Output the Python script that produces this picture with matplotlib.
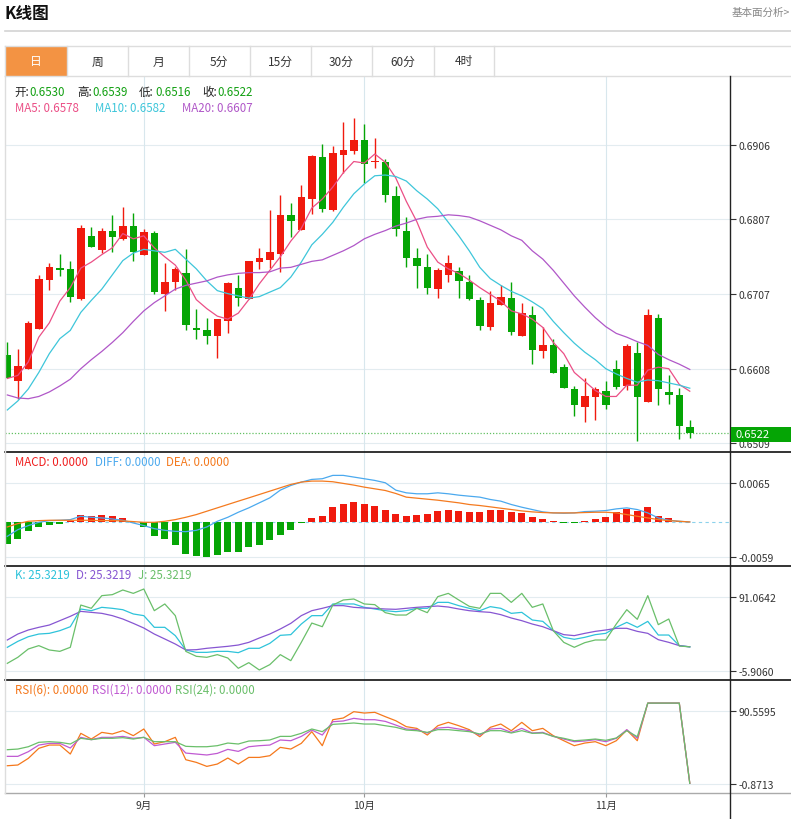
import matplotlib
matplotlib.use("Agg")
import matplotlib.pyplot as plt
from matplotlib.lines import Line2D
from matplotlib.patches import Rectangle

plt.rcParams['font.family'] = ['Noto Sans CJK SC', 'DejaVu Sans']

# ---- daily candles ----
opens = [0.6626, 0.6591, 0.6608, 0.6661, 0.6726, 0.6742, 0.6741, 0.6701, 0.6785, 0.6766,
         0.6791, 0.6781, 0.6798, 0.6759, 0.6789, 0.6708, 0.6723, 0.6736, 0.6662, 0.6659,
         0.6651, 0.6672, 0.6716, 0.6701, 0.6750, 0.6753, 0.6761, 0.6813, 0.6793, 0.6834,
         0.6890, 0.6819, 0.6893, 0.6898, 0.6912, 0.6884, 0.6884, 0.6838, 0.6791, 0.6755,
         0.6744, 0.6714, 0.6733, 0.6738, 0.6724, 0.6699, 0.6664, 0.6693, 0.6702, 0.6652,
         0.6680, 0.6631, 0.6639, 0.6610, 0.6581, 0.6557, 0.6570, 0.6578, 0.6608, 0.6585,
         0.6629, 0.6564, 0.6675, 0.6577, 0.6573, 0.6530]
highs = [0.6643, 0.6634, 0.6671, 0.6733, 0.6749, 0.6761, 0.6752, 0.6799, 0.6797, 0.6795,
         0.6813, 0.6824, 0.6815, 0.6794, 0.6791, 0.6749, 0.6743, 0.6767, 0.6688, 0.6676,
         0.6674, 0.6724, 0.6733, 0.6752, 0.6769, 0.6819, 0.6839, 0.6829, 0.6853, 0.6893,
         0.6907, 0.6905, 0.6937, 0.6942, 0.6934, 0.6915, 0.6887, 0.6851, 0.6810, 0.6769,
         0.6761, 0.6742, 0.6759, 0.6744, 0.6733, 0.6704, 0.6711, 0.6720, 0.6723, 0.6696,
         0.6691, 0.6663, 0.6647, 0.6614, 0.6585, 0.6595, 0.6583, 0.6591, 0.6619, 0.6641,
         0.6644, 0.6688, 0.6681, 0.6599, 0.6582, 0.6539]
lows = [0.6595, 0.6568, 0.6608, 0.6661, 0.6713, 0.6731, 0.6697, 0.6699, 0.6770, 0.6762,
        0.6764, 0.6779, 0.6751, 0.6759, 0.6708, 0.6685, 0.6713, 0.6660, 0.6648, 0.6641,
        0.6622, 0.6656, 0.6691, 0.6701, 0.6741, 0.6742, 0.6737, 0.6783, 0.6793, 0.6814,
        0.6817, 0.6818, 0.6869, 0.6894, 0.6856, 0.6875, 0.6830, 0.6785, 0.6743, 0.6715,
        0.6708, 0.6702, 0.6724, 0.6702, 0.6699, 0.6659, 0.6659, 0.6693, 0.6653, 0.6651,
        0.6614, 0.6622, 0.6602, 0.6582, 0.6545, 0.6537, 0.6540, 0.6554, 0.6581, 0.6579,
        0.6512, 0.6564, 0.6559, 0.6561, 0.6514, 0.6516]
closes = [0.6595, 0.6611, 0.6669, 0.6728, 0.6743, 0.6739, 0.6703, 0.6796, 0.6770, 0.6791,
          0.6784, 0.6798, 0.6764, 0.6790, 0.6710, 0.6724, 0.6741, 0.6666, 0.6659, 0.6651,
          0.6674, 0.6722, 0.6702, 0.6751, 0.6755, 0.6764, 0.6813, 0.6805, 0.6837, 0.6892,
          0.6821, 0.6895, 0.6899, 0.6912, 0.6881, 0.6885, 0.6839, 0.6794, 0.6755, 0.6745,
          0.6716, 0.6740, 0.6749, 0.6725, 0.6701, 0.6665, 0.6696, 0.6704, 0.6657, 0.6682,
          0.6633, 0.6640, 0.6602, 0.6582, 0.6560, 0.6571, 0.6581, 0.6559, 0.6583, 0.6638,
          0.6570, 0.6679, 0.6581, 0.6573, 0.6532, 0.6522]

ma5 = [0.6595, 0.6599, 0.6617, 0.6650, 0.6669, 0.6698, 0.6716, 0.6742, 0.6750, 0.6760,
       0.6769, 0.6788, 0.6781, 0.6785, 0.6769, 0.6757, 0.6746, 0.6726, 0.6700, 0.6688,
       0.6678, 0.6674, 0.6682, 0.6700, 0.6721, 0.6739, 0.6757, 0.6778, 0.6795, 0.6822,
       0.6834, 0.6850, 0.6869, 0.6884, 0.6882, 0.6894, 0.6883, 0.6862, 0.6831, 0.6804,
       0.6770, 0.6750, 0.6741, 0.6735, 0.6726, 0.6716, 0.6707, 0.6698, 0.6685, 0.6681,
       0.6674, 0.6663, 0.6643, 0.6628, 0.6603, 0.6591, 0.6579, 0.6571, 0.6571, 0.6586,
       0.6586, 0.6606, 0.6610, 0.6608, 0.6587, 0.6578]
ma10 = [0.6553, 0.6565, 0.6581, 0.6603, 0.6628, 0.6648, 0.6659, 0.6683, 0.6699, 0.6714,
        0.6733, 0.6752, 0.6762, 0.6767, 0.6765, 0.6763, 0.6767, 0.6754, 0.6741, 0.6725,
        0.6712, 0.6708, 0.6705, 0.6702, 0.6704, 0.6710, 0.6716, 0.6730, 0.6750, 0.6773,
        0.6787, 0.6803, 0.6823, 0.6841, 0.6854, 0.6865, 0.6866, 0.6864, 0.6858, 0.6845,
        0.6834, 0.6821, 0.6803, 0.6785, 0.6765, 0.6743, 0.6728, 0.6719, 0.6711, 0.6705,
        0.6697, 0.6688, 0.6671, 0.6656, 0.6642, 0.6630, 0.6620, 0.6608, 0.6601, 0.6595,
        0.6590, 0.6593, 0.6592, 0.6589, 0.6586, 0.6582]
ma20 = [0.6573, 0.6569, 0.6568, 0.6571, 0.6577, 0.6585, 0.6594, 0.6608, 0.6620, 0.6631,
        0.6643, 0.6656, 0.6671, 0.6685, 0.6696, 0.6705, 0.6714, 0.6719, 0.6722, 0.6725,
        0.6730, 0.6733, 0.6735, 0.6736, 0.6736, 0.6737, 0.6742, 0.6743, 0.6747, 0.6751,
        0.6753, 0.6759, 0.6765, 0.6772, 0.6781, 0.6787, 0.6792, 0.6798, 0.6802, 0.6807,
        0.6810, 0.6811, 0.6813, 0.6812, 0.6810, 0.6805, 0.6799, 0.6793, 0.6785, 0.6779,
        0.6765, 0.6754, 0.6739, 0.6722, 0.6705, 0.6690, 0.6676, 0.6664, 0.6655, 0.6650,
        0.6644, 0.6639, 0.6627, 0.6620, 0.6614, 0.6607]

macd_hist = [-0.00363, -0.00285, -0.00157, -0.00084, -0.00045, -0.00028, 0.0001, 0.00123, 0.00106, 0.00123,
             0.00095, 0.00067, 0.0, -0.00084, -0.00229, -0.00285, -0.0038, -0.0053, -0.00576, -0.00587,
             -0.00548, -0.00509, -0.00509, -0.00425, -0.00391, -0.00307, -0.00212, -0.0014, -0.0001, 0.00067,
             0.00095, 0.00252, 0.00302, 0.0033, 0.00307, 0.00274, 0.00207, 0.0014, 0.00106, 0.00123,
             0.00134, 0.0019, 0.00196, 0.00179, 0.00162, 0.00162, 0.00207, 0.00207, 0.00162, 0.00151,
             0.00084, 0.00056, 0.0001, -0.00017, -0.00017, 0.00022, 0.00056, 0.00084, 0.00173, 0.00224,
             0.0019, 0.00257, 0.00106, 0.00067, 0.0001, 0.0]
diff = [-0.0024, -0.00129, -0.00061, -0.00006, 0.00022, 0.00028, 0.00039, 0.00095, 0.00078, 0.00067,
        0.0005, 0.00028, -0.00017, -0.00061, -0.00112, -0.0014, -0.00157, -0.00162, -0.0014, -0.00084,
        0.00011, 0.00078, 0.00162, 0.00235, 0.00319, 0.00402, 0.00531, 0.00609, 0.00665, 0.0071,
        0.00721, 0.00777, 0.00777, 0.00749, 0.00721, 0.00693, 0.00654, 0.00531, 0.00486, 0.0047,
        0.0047, 0.00486, 0.0047, 0.00447, 0.0043, 0.00414, 0.00375, 0.00347, 0.00291, 0.00246,
        0.00207, 0.00168, 0.00151, 0.00145, 0.00151, 0.00173, 0.00179, 0.0019, 0.00218, 0.00235,
        0.00207, 0.00151, 0.00067, 0.00028, 0.00011, 0.0]
dea = [-0.00084, -0.00028, 0.00011, 0.00022, 0.00028, 0.00028, 0.00028, 0.00028, 0.00028, 0.00022,
       0.00022, 0.00017, 0.00006, -0.00006, -0.00006, 0.00011, 0.00039, 0.00078, 0.00123, 0.00179,
       0.00235, 0.00291, 0.00347, 0.00402, 0.00458, 0.00514, 0.0057, 0.00626, 0.00665, 0.00682,
       0.00682, 0.00671, 0.00643, 0.00615, 0.00581, 0.00553, 0.00525, 0.00475, 0.00414, 0.00397,
       0.0038, 0.00363, 0.00341, 0.00319, 0.00291, 0.00274, 0.00252, 0.00229, 0.00207, 0.00184,
       0.00168, 0.00157, 0.00151, 0.00151, 0.00151, 0.00157, 0.00162, 0.00162, 0.00151, 0.00123,
       0.00095, 0.00067, 0.00039, 0.00022, 0.00011, 0.0]

k_line = [24.7, 32.5, 38.6, 42.1, 43.0, 46.5, 51.7, 74.9, 72.7, 77.1,
          75.8, 74.0, 68.4, 66.2, 50.9, 50.9, 40.0, 21.2, 18.1, 18.1,
          19.4, 19.4, 17.7, 23.4, 23.4, 29.9, 40.4, 41.3, 55.2, 66.2,
          66.2, 81.5, 81.5, 81.5, 77.1, 74.9, 72.7, 71.4, 72.7, 75.8,
          75.8, 83.6, 83.6, 79.3, 75.8, 72.7, 78.0, 75.8, 69.2, 70.5,
          60.5, 58.7, 46.5, 37.8, 35.2, 37.8, 41.3, 43.0, 50.9, 57.4,
          50.9, 58.7, 40.8, 40.8, 26.9, 25.3219]
d_line = [34.3, 42.1, 47.4, 50.9, 53.9, 59.6, 65.3, 71.8, 70.5, 69.2,
          66.2, 61.8, 56.1, 50.0, 42.1, 35.6, 29.0, 21.2, 21.6, 23.4,
          24.7, 26.0, 27.7, 31.2, 36.9, 42.1, 48.7, 56.1, 66.2, 72.7,
          75.8, 79.3, 79.3, 77.1, 76.2, 75.8, 74.9, 74.5, 75.8, 77.1,
          78.0, 78.8, 77.5, 74.9, 72.7, 71.4, 70.5, 67.5, 63.1, 59.6,
          55.2, 51.7, 46.5, 41.3, 40.0, 43.0, 45.6, 47.4, 49.6, 49.6,
          45.6, 43.0, 34.7, 31.2, 26.9, 25.3219]
j_line = [3.7, 11.6, 22.5, 26.9, 21.2, 19.4, 24.7, 80.1, 75.8, 92.4,
          93.7, 99.8, 95.4, 101.1, 72.7, 81.5, 66.2, 19.4, 12.9, 11.6,
          15.1, 10.7, -2.8, 4.6, -5.0, 2.0, 15.1, 7.2, 31.2, 56.5,
          51.7, 80.1, 86.7, 88.0, 81.5, 80.6, 70.1, 67.0, 67.0, 75.8,
          70.1, 91.1, 95.4, 86.7, 78.4, 75.8, 95.4, 95.4, 83.6, 95.4,
          77.1, 81.5, 46.5, 31.2, 24.7, 30.8, 34.3, 34.3, 55.2, 74.0,
          61.4, 92.4, 54.4, 61.8, 26.4, 25.3219]

rsi6 = [21.9, 22.8, 31.1, 43.6, 47.7, 47.7, 36.5, 62.3, 55.2, 63.5,
        61.5, 65.6, 59.4, 67.7, 49.0, 51.9, 57.3, 29.4, 26.1, 21.1,
        24.0, 31.5, 24.0, 32.3, 32.3, 34.4, 44.8, 42.7, 49.8, 64.4,
        46.9, 79.3, 81.4, 89.3, 87.6, 88.5, 83.1, 78.0, 70.6, 68.5,
        60.2, 71.8, 76.0, 71.8, 66.9, 58.1, 69.8, 73.9, 65.6, 76.0,
        65.6, 68.5, 59.4, 53.1, 46.9, 50.2, 51.9, 46.9, 53.1, 66.4,
        53.1, 100.0, 100.0, 100.0, 100.0, 0.0]
rsi12 = [33.6, 33.6, 39.4, 47.7, 49.8, 49.8, 44.0, 57.3, 54.4, 57.3,
         57.3, 58.5, 56.1, 57.3, 46.9, 49.0, 51.1, 37.7, 36.5, 35.3,
         37.3, 42.3, 39.8, 45.6, 46.9, 47.7, 54.0, 53.1, 58.5, 66.4,
         60.2, 76.8, 77.7, 81.0, 79.3, 79.3, 77.2, 72.6, 67.7, 66.9,
         62.7, 68.9, 69.8, 67.7, 65.6, 60.2, 67.7, 68.5, 63.5, 68.5,
         62.7, 63.5, 58.5, 55.2, 51.9, 52.7, 54.4, 51.9, 56.1, 66.9,
         56.1, 100.0, 100.0, 100.0, 100.0, 0.0]
rsi24 = [41.9, 42.7, 45.6, 51.1, 51.9, 51.1, 49.0, 56.1, 54.4, 56.1,
         56.1, 56.9, 55.2, 57.3, 51.9, 51.9, 51.9, 46.1, 45.6, 45.6,
         46.9, 50.2, 49.0, 52.7, 53.1, 54.0, 58.5, 58.5, 62.3, 67.7,
         64.4, 73.5, 74.3, 75.2, 73.9, 73.9, 71.8, 69.8, 66.4, 65.6,
         63.5, 66.9, 66.9, 65.6, 64.4, 61.5, 65.6, 65.6, 62.7, 65.6,
         62.3, 62.7, 58.5, 56.1, 53.1, 54.0, 55.2, 53.6, 56.5, 65.6,
         58.1, 100.0, 100.0, 100.0, 100.0, 0.0]

month_pos = [13, 34, 57]
month_labels = ["9月", "10月", "11月"]
tabs = ["日", "周", "月", "5分", "15分", "30分", "60分", "4时"]
price_ticks = [0.6906, 0.6807, 0.6707, 0.6608, 0.6509]
macd_ticks = [0.0065, -0.0059]
kdj_ticks = [91.0642, -5.9060]
rsi_ticks = [90.5595, -0.8713]
last_price = 0.6522

RED = '#F01A0E'
GREEN = '#05A505'
GRID = '#E3ECF0'
VGRID = '#D8E7ED'

W, H = 791, 820
fig = plt.figure(figsize=(W / 100, H / 100), dpi=100)


def fx(px):
    return px / W


def fy(py):
    return 1 - py / H


def hline(x0, x1, y, color, lw=1.0):
    fig.add_artist(Line2D([fx(x0), fx(x1)], [fy(y), fy(y)], color=color, lw=lw,
                          transform=fig.transFigure))


def vline(x, y0, y1, color, lw=1.0):
    fig.add_artist(Line2D([fx(x), fx(x)], [fy(y0), fy(y1)], color=color, lw=lw,
                          transform=fig.transFigure))


def text(x, y, s, color, size=8.3, **kw):
    fig.text(fx(x), fy(y), s, color=color, fontsize=size, va='center', **kw)


X0, X1 = 5, 730
XLIM = (-0.22, 68.83)


def panel(top, bottom, ylim, ticks):
    ax = fig.add_axes([fx(X0), fy(bottom), fx(X1) - fx(X0), (bottom - top) / H])
    ax.set_xlim(*XLIM)
    ax.set_ylim(*ylim)
    for s in ax.spines.values():
        s.set_visible(False)
    ax.patch.set_alpha(0)
    ax.set_xticks([])
    ax.yaxis.tick_right()
    ax.set_yticks(ticks)
    ax.set_yticklabels(["%.4f" % t for t in ticks])
    ax.tick_params(axis='y', length=4, width=0.8, color='#333333', labelsize=7.5,
                   labelcolor='#333333', pad=2)
    for t in ticks:
        ax.axhline(t, color=GRID, lw=0.8, zorder=0)
    for m in month_pos:
        ax.axvline(m, color=VGRID, lw=0.8, zorder=0)
    return ax


x = list(range(len(closes)))

# ---- main candle panel ----
ax = panel(77, 453, (0.649701, 0.699792), price_ticks)
cols = [RED if c >= o else GREEN for o, c in zip(opens, closes)]
ax.vlines(x, lows, highs, colors=cols, lw=1, zorder=2)
bottoms = [min(o, c) for o, c in zip(opens, closes)]
heights = [max(abs(c - o), 0.00008) for o, c in zip(opens, closes)]
ax.bar(x, heights, 0.72, bottom=bottoms, color=cols, lw=0, zorder=3)
ax.plot(x, ma5, color='#EB4F86', lw=0.9, zorder=4)
ax.plot(x, ma10, color='#3EC6DA', lw=0.9, zorder=4)
ax.plot(x, ma20, color='#B057C8', lw=0.9, zorder=4)
ax.axhline(last_price, color='#62C062', lw=0.9, ls=(0, (1, 1.5)), zorder=1)

# ---- MACD ----
ax2 = panel(453, 567, (-0.007352, 0.011674), macd_ticks)
ax2.axhline(0, color='#8CD2EC', lw=0.8, ls=(0, (3, 3)), zorder=1)
ax2.bar(x, macd_hist, 0.7, color=[RED if v >= 0 else GREEN for v in macd_hist], lw=0, zorder=2)
ax2.plot(x, diff, color='#4BA9EE', lw=0.9, zorder=3)
ax2.plot(x, dea, color='#F47A1F', lw=0.9, zorder=3)

# ---- KDJ ----
ax3 = panel(567, 681, (-18.13, 131.25), kdj_ticks)
ax3.plot(x, k_line, color='#2EC3DA', lw=0.9)
ax3.plot(x, d_line, color='#8756D2', lw=0.9)
ax3.plot(x, j_line, color='#6ABF6A', lw=0.9)

# ---- RSI ----
ax4 = panel(681, 794, (-12.09, 128.80), rsi_ticks)
ax4.plot(x, rsi6, color='#F5781C', lw=0.9)
ax4.plot(x, rsi12, color='#C05AD2', lw=0.9)
ax4.plot(x, rsi24, color='#6ABF6A', lw=0.9)
ax4.set_xticks(month_pos)
ax4.set_xticklabels(month_labels)
ax4.tick_params(axis='x', length=3, width=0.8, color='#999999', labelsize=7.5,
                labelcolor='#333333', pad=2)

# ---- frame lines ----
hline(5, 791, 32.3, '#D3D3D3', 1.2)
hline(5, 791, 46.7, '#DDDDDD')
hline(5, 791, 77.3, '#DDDDDD')
for y in (453, 567, 681):
    hline(5, 791, y, '#111111', 1.2)
hline(5, 791, 794, '#AAAAAA')
vline(5, 77, 794, '#DDDDDD')
vline(730, 77.3, 820, '#222222')

# ---- tabs ----
tab_edges = [5, 66.6, 127.6, 188.6, 249.6, 311, 372, 433.7, 494]
fig.add_artist(Rectangle((fx(5), fy(77.3)), fx(66.6) - fx(5), (77.3 - 46.7) / H,
                         transform=fig.transFigure, color='#F39343', lw=0))
for e in tab_edges:
    vline(e, 46.7, 77.3, '#DDDDDD')
for i, t in enumerate(tabs):
    cx = (tab_edges[i] + tab_edges[i + 1]) / 2
    text(cx, 62, t, 'white' if i == 0 else '#333333', 8.5, ha='center')

# ---- title ----
text(5, 14, "K线图", '#111111', 12, ha='left', weight='bold')
text(790, 13, "基本面分析>", '#888888', 7.6, ha='right')

# ---- legends ----
VAL = '#12A012'
for lx, lab, vx, val in [(14, "开:", 29, "0.6530"), (77, "高:", 92, "0.6539"),
                         (139, "低:", 155, "0.6516"), (202, "收:", 217, "0.6522")]:
    text(lx, 92.7, lab, '#222222', 8.3, ha='left')
    text(vx, 92.7, val, VAL, 8.3, ha='left')
text(15, 108, "MA5: 0.6578", '#EB4F86', 8.3, ha='left')
text(95, 108, "MA10: 0.6582", '#3EC6DA', 8.3, ha='left')
text(182, 108, "MA20: 0.6607", '#B057C8', 8.3, ha='left')

text(15, 463, "MACD: 0.0000", '#F02020', 8.3, ha='left')
text(95, 463, "DIFF: 0.0000", '#4BA9EE', 8.3, ha='left')
text(166, 463, "DEA: 0.0000", '#F47A1F', 8.3, ha='left')

text(15, 576, "K: 25.3219", '#2EC3DA', 8.3, ha='left')
text(76, 576, "D: 25.3219", '#8756D2', 8.3, ha='left')
text(138, 576, "J: 25.3219", '#6ABF6A', 8.3, ha='left')

text(15, 690, "RSI(6): 0.0000", '#F5781C', 8.3, ha='left')
text(92, 690, "RSI(12): 0.0000", '#C05AD2', 8.3, ha='left')
text(175, 690, "RSI(24): 0.0000", '#6ABF6A', 8.3, ha='left')

# ---- last price tag ----
fig.add_artist(Rectangle((fx(731), fy(442.7)), fx(791) - fx(731), 15 / H,
                         transform=fig.transFigure, color='#05A505', lw=0, zorder=5))
fig.text(fx(736), fy(435.2), "%.4f" % last_price, color='white', fontsize=8,
         va='center', ha='left', zorder=6)

fig.savefig("out.png", dpi=100)
